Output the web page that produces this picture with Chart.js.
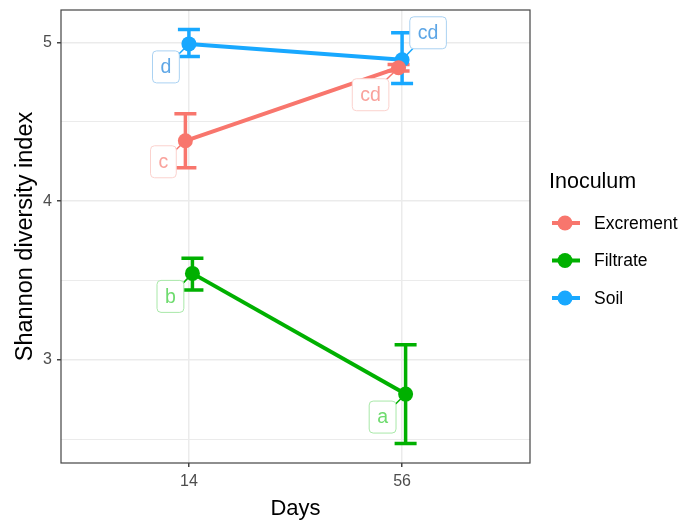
<!DOCTYPE html>
<html>
<head>
<meta charset="utf-8">
<script src="https://cdn.jsdelivr.net/npm/chart.js@4/dist/chart.umd.min.js"></script>
<style>
  body { margin: 0; background: #fff; }
</style>
</head>
<body>
<canvas id="chart" width="679" height="522"></canvas>
<script>
// дані
const days = ['14', '56'];
const groups = ['Excrement', 'Filtrate', 'Soil'];

const excrementMean = [4.38, 4.84];
const excrementLow = [4.21, 4.82];
const excrementHigh = [4.55, 4.86];
const excrementLetters = ['c', 'cd'];

const filtrateMean = [3.545, 2.785];
const filtrateLow = [3.44, 2.474];
const filtrateHigh = [3.64, 3.095];
const filtrateLetters = ['b', 'a'];

const soilMean = [4.99, 4.89];
const soilLow = [4.91, 4.74];
const soilHigh = [5.08, 5.06];
const soilLetters = ['d', 'cd'];

// стилі
const FONT = '"Liberation Sans", Arial, sans-serif';
const colors = ['#F8766D', '#00B000', '#18A8FF'];
const labelText = ['#F9A29C', '#6EDB6E', '#5DA6E6'];
const labelBorder = ['#FBD2CE', '#A8E8A8', '#AAD2F2'];
const dodge = [-0.0165, 0.0165, 0];
// зсув підписів (пікселі) від точки
const labelOffsets = [
  [[-22, 21], [-28, 27]],
  [[-22, 23], [-23, 23]],
  [[-23, 23], [26, -27]]
];

const means = [excrementMean, filtrateMean, soilMean];
const lows = [excrementLow, filtrateLow, soilLow];
const highs = [excrementHigh, filtrateHigh, soilHigh];
const letters = [excrementLetters, filtrateLetters, soilLetters];

const datasets = groups.map((g, i) => ({
  label: g,
  data: days.map((d, j) => ({ x: j + 1 + dodge[i], y: means[i][j] })),
  borderColor: colors[i],
  backgroundColor: colors[i],
  borderWidth: 4,
  pointRadius: 7.5,
  pointHoverRadius: 7.5,
  pointBorderWidth: 0,
  tension: 0
}));

// Похибки: малюємо до точок
const errorBars = {
  id: 'errorBars',
  beforeDatasetsDraw(chart) {
    const { ctx, scales: { x, y } } = chart;
    ctx.save();
    ctx.lineWidth = 3.5;
    groups.forEach((g, i) => {
      ctx.strokeStyle = colors[i];
      days.forEach((d, j) => {
        const px = x.getPixelForValue(j + 1 + dodge[i]);
        const top = y.getPixelForValue(highs[i][j]);
        const bot = y.getPixelForValue(lows[i][j]);
        ctx.beginPath();
        ctx.moveTo(px, top); ctx.lineTo(px, bot);
        ctx.moveTo(px - 11, top); ctx.lineTo(px + 11, top);
        ctx.moveTo(px - 11, bot); ctx.lineTo(px + 11, bot);
        ctx.stroke();
      });
    });
    ctx.restore();
  }
};

// Підписи з рамками + рамка панелі + легенда
const extras = {
  id: 'extras',
  afterDatasetsDraw(chart) {
    const { ctx, scales: { x, y } } = chart;
    ctx.save();
    ctx.font = '19.5px ' + FONT;
    ctx.textAlign = 'center';
    ctx.textBaseline = 'middle';
    groups.forEach((g, i) => {
      days.forEach((d, j) => {
        const px = x.getPixelForValue(j + 1 + dodge[i]);
        const py = y.getPixelForValue(means[i][j]);
        const cx = px + labelOffsets[i][j][0];
        const cy = py + labelOffsets[i][j][1];
        const txt = letters[i][j];
        const w = ctx.measureText(txt).width + 16;
        const h = 32;
        ctx.strokeStyle = colors[i];
        ctx.lineWidth = 1.5;
        ctx.beginPath();
        ctx.moveTo(px, py); ctx.lineTo(cx, cy);
        ctx.stroke();
        ctx.beginPath();
        ctx.roundRect(cx - w / 2, cy - h / 2, w, h, 4);
        ctx.fillStyle = '#fff';
        ctx.fill();
        ctx.strokeStyle = labelBorder[i];
        ctx.lineWidth = 1;
        ctx.stroke();
        ctx.fillStyle = labelText[i];
        ctx.fillText(txt, cx, cy + 1);
      });
    });
    ctx.restore();
  },
  afterDraw(chart) {
    const { ctx, chartArea: a } = chart;
    ctx.save();
    ctx.strokeStyle = '#444';
    ctx.lineWidth = 1.2;
    ctx.strokeRect(a.left, a.top, a.right - a.left, a.bottom - a.top);

    // легенда
    ctx.fillStyle = '#000';
    ctx.font = '21.5px ' + FONT;
    ctx.textAlign = 'left';
    ctx.textBaseline = 'middle';
    ctx.fillText('Inoculum', 549, 182);
    ctx.font = '17.5px ' + FONT;
    chart.data.datasets.forEach((ds, i) => {
      const ky = 223 + i * 37.5;
      ctx.strokeStyle = ds.borderColor;
      ctx.lineWidth = 4;
      ctx.beginPath();
      ctx.moveTo(552, ky); ctx.lineTo(580, ky);
      ctx.stroke();
      ctx.fillStyle = ds.backgroundColor;
      ctx.beginPath();
      ctx.arc(565, ky, 7.5, 0, Math.PI * 2);
      ctx.fill();
      ctx.fillStyle = '#000';
      ctx.fillText(ds.label, 594, ky + 1);
    });
    ctx.restore();
  }
};

new Chart(document.getElementById('chart'), {
  type: 'line',
  data: { datasets },
  options: {
    responsive: false,
    animation: false,
    layout: { padding: { top: 10, right: 149, left: 0, bottom: 0 } },
    plugins: { legend: { display: false }, tooltip: { enabled: false } },
    scales: {
      x: {
        type: 'linear',
        min: 0.4,
        max: 2.6,
        afterBuildTicks: s => { s.ticks = [{ value: 1 }, { value: 2 }]; },
        afterFit: s => { s.height = 59; s.paddingLeft = 0; s.paddingRight = 0; },
        ticks: {
          callback: v => days[v - 1],
          font: { family: FONT, size: 16 },
          color: '#4d4d4d',
          padding: 5
        },
        grid: { color: '#ebebeb', lineWidth: 1.5, tickLength: 4, tickColor: '#444' },
        border: { display: false },
        title: {
          display: true, text: 'Days', color: '#000',
          font: { family: FONT, size: 22 }, padding: { top: 2, bottom: 0 }
        }
      },
      y: {
        type: 'linear',
        min: 2.351,
        max: 5.2035,
        afterBuildTicks: s => {
          s.ticks = [2.5, 3, 3.5, 4, 4.5, 5].map(v => ({ value: v }));
        },
        afterFit: s => { s.width = 61; s.paddingTop = 0; s.paddingBottom = 0; },
        ticks: {
          callback: v => Number.isInteger(v) ? String(v) : '',
          font: { family: FONT, size: 16 },
          color: '#4d4d4d',
          padding: 5
        },
        grid: {
          color: '#ebebeb',
          lineWidth: c => Number.isInteger(c.tick && c.tick.value) ? 1.5 : 1,
          tickLength: 4,
          tickColor: c => Number.isInteger(c.tick && c.tick.value) ? '#444' : 'rgba(0,0,0,0)'
        },
        border: { display: false },
        title: {
          display: true, text: 'Shannon diversity index', color: '#000',
          font: { family: FONT, size: 23.5 }, padding: { top: 11, bottom: 0 }
        }
      }
    }
  },
  plugins: [errorBars, extras]
});
</script>
</body>
</html>
